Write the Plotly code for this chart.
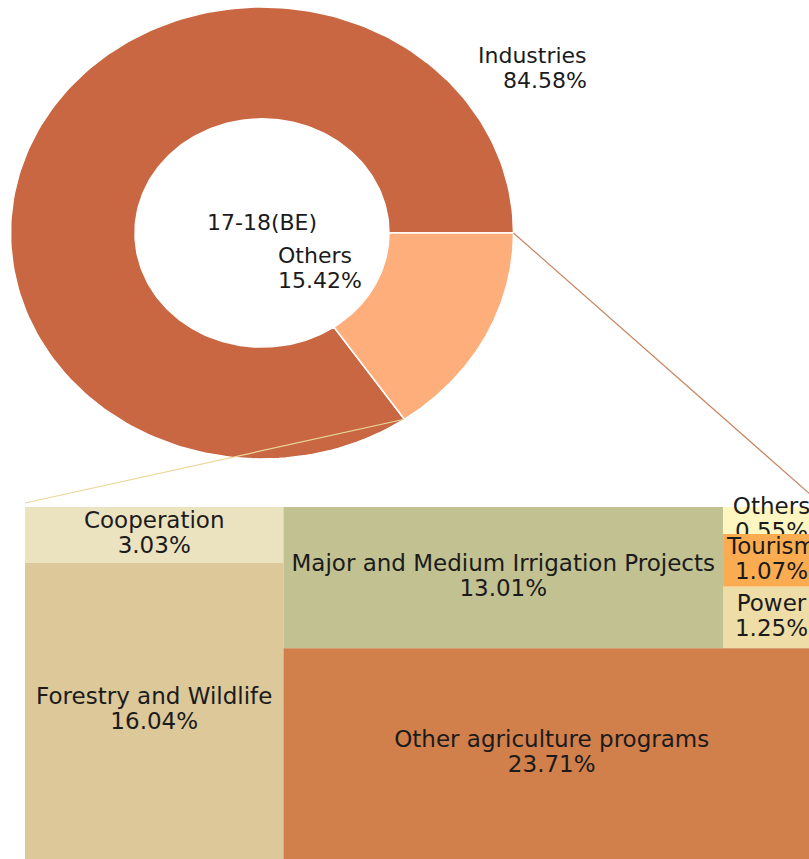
import numpy as np
import plotly.graph_objects as go

# Top-level split of the 2017-18 budget estimate
pie_labels = ["Industries", "Others"]
pie_shares = [84.58, 15.42]
pie_colors = ["#C96742", "#FDAE7B"]
center_label = "17-18(BE)"

# Break-up of the "Others" share
tm_labels = [
    "Cooperation",
    "Forestry and Wildlife",
    "Major and Medium Irrigation Projects",
    "Others",
    "Tourism",
    "Power",
    "Other agriculture programs",
]
tm_values = [3.03, 16.04, 13.01, 0.55, 1.07, 1.25, 23.71]
tm_colors = ["#EBE2BF", "#DCC899", "#C2C192", "#FEF6C1", "#FBAC50", "#EEDDA7", "#D17F4B"]

# Canvas geometry (axis units = pixels, y grows downward)
W, H = 809, 859
CX, CY = 262, 233
RX, RY = 251.5, 226
HOLE = 0.505
TM_X0, TM_Y0, TM_W, TM_H = 25, 507, 795, 352

FONT = "DejaVu Sans"
TXT = "#1b1b1b"
FS_PIE = 22
FS_TM = 23
LINE_GAP = 25

fig = go.Figure()


def ell(t_deg, scale=1.0):
    t = np.radians(t_deg)
    return CX + RX * scale * np.cos(t), CY - RY * scale * np.sin(t)


# Donut wedges, counter-clockwise from 3 o'clock
start = 0.0
angles = []
for lab, share, col in zip(pie_labels, pie_shares, pie_colors):
    a0, a1 = start, start + share / sum(pie_shares) * 360.0
    angles.append((a0, a1))
    t = np.linspace(a0, a1, 200)
    ox, oy = ell(t)
    ix, iy = ell(t[::-1], HOLE)
    xs = np.concatenate([ox, ix, ox[:1]])
    ys = np.concatenate([oy, iy, oy[:1]])
    fig.add_trace(go.Scatter(x=xs, y=ys, fill="toself", fillcolor=col, mode="lines",
                             line=dict(color="white", width=1.5), hoverinfo="skip",
                             showlegend=False))
    start = a1

# Treemap cell layout
v = tm_values
total = sum(v)
col_w = (v[0] + v[1]) / total * TM_W
rects = []
h0 = v[0] / (v[0] + v[1]) * TM_H
rects.append((TM_X0, TM_Y0, TM_X0 + col_w, TM_Y0 + h0))
rects.append((TM_X0, TM_Y0 + h0, TM_X0 + col_w, TM_Y0 + TM_H))
rx0 = TM_X0 + col_w
rest_w = TM_W - col_w
rest_total = total - v[0] - v[1]
band_vals = v[2] + v[3] + v[4] + v[5]
band_h = band_vals / rest_total * TM_H
mx1 = rx0 + v[2] / band_vals * rest_w
rects.append((rx0, TM_Y0, mx1, TM_Y0 + band_h))
stack_sum = v[3] + v[4] + v[5]
y = TM_Y0
for i in (3, 4, 5):
    hh = v[i] / stack_sum * band_h
    rects.append((mx1, y, TM_X0 + TM_W, y + hh))
    y += hh
rects.append((rx0, TM_Y0 + band_h, TM_X0 + TM_W, TM_Y0 + TM_H))

for lab, val, col, (x0, y0, x1, y1) in zip(tm_labels, tm_values, tm_colors, rects):
    fig.add_trace(go.Scatter(x=[x0, x1, x1, x0, x0], y=[y0, y0, y1, y1, y0], fill="toself",
                             fillcolor=col, mode="lines", line=dict(width=0, color=col),
                             hoverinfo="skip", showlegend=False))
    cx, cy = (x0 + x1) / 2, (y0 + y1) / 2
    fig.add_trace(go.Scatter(x=[cx, cx], y=[cy - LINE_GAP / 2, cy + LINE_GAP / 2],
                             mode="text", text=[lab, f"{val:.2f}%"],
                             textposition="middle center",
                             textfont=dict(family=FONT, size=FS_TM, color=TXT),
                             hoverinfo="skip", showlegend=False))

# Connector lines from the "Others" wedge to the treemap corners
pa = ell(angles[1][0])
pb = ell(angles[1][1])
fig.add_trace(go.Scatter(x=[pa[0], TM_X0], y=[pa[1], TM_Y0 - 4], mode="lines",
                         line=dict(color="#EAD79A", width=1.2), hoverinfo="skip",
                         showlegend=False))
fig.add_trace(go.Scatter(x=[pb[0], TM_X0 + TM_W], y=[pb[1], TM_Y0 - 4], mode="lines",
                         line=dict(color="#C98461", width=1.2), hoverinfo="skip",
                         showlegend=False))

# Pie labels
ann = []
ann.append(dict(x=589, y=55, text=pie_labels[0], xanchor="right"))
ann.append(dict(x=589, y=80, text=f"{pie_shares[0]:.2f}%", xanchor="right"))
ann.append(dict(x=276, y=255, text=pie_labels[1], xanchor="left"))
ann.append(dict(x=276, y=280, text=f"{pie_shares[1]:.2f}%", xanchor="left"))
ann.append(dict(x=CX, y=222, text=center_label, xanchor="center"))
for a in ann:
    a.update(xref="x", yref="y", yanchor="middle", showarrow=False,
             font=dict(family=FONT, size=FS_PIE, color=TXT))

fig.update_layout(
    width=W, height=H,
    margin=dict(l=0, r=0, t=0, b=0),
    paper_bgcolor="white", plot_bgcolor="white",
    xaxis=dict(range=[0, W], visible=False, fixedrange=True),
    yaxis=dict(range=[H, 0], visible=False, fixedrange=True),
    annotations=ann,
    showlegend=False,
)

fig.write_html("out.html")
